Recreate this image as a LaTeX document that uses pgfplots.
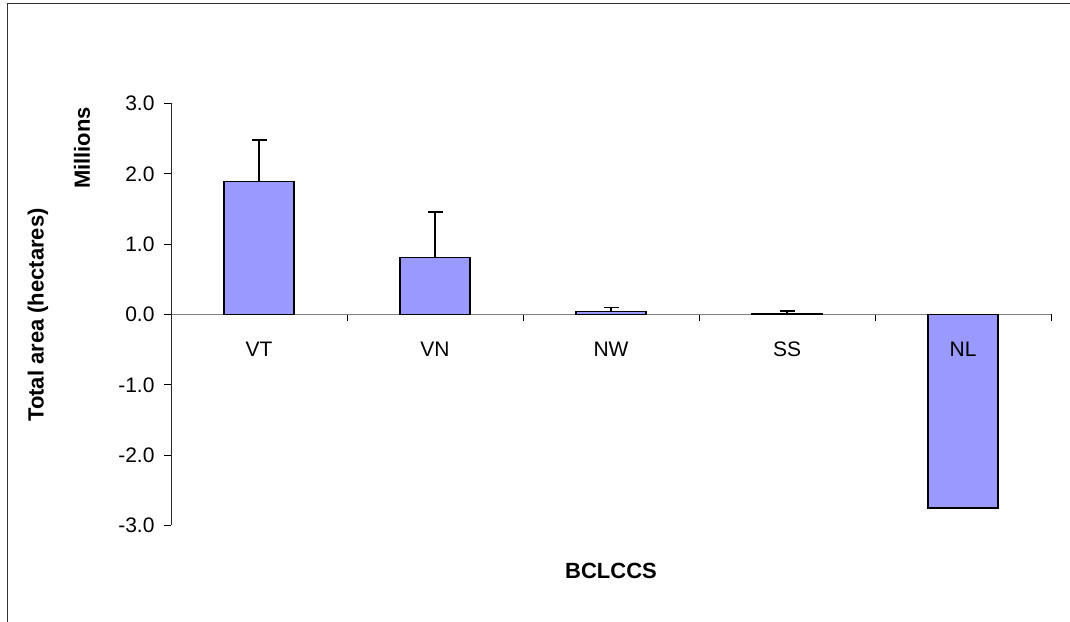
\documentclass[border=0pt]{standalone}
\usepackage{pgfplots}
\pgfplotsset{compat=1.18}
\usepackage{fontspec}
\setmainfont{Liberation Sans}
\definecolor{barfill}{HTML}{9999FF}
\definecolor{axisgray}{HTML}{808080}

\begin{document}
\begin{tikzpicture}[x=1pt,y=1pt]
\useasboundingbox (0,0) rectangle (1070,621);
% chart area frame
\draw[line width=1.3pt, black!80] (7.5,-2) -- (7.5,617.5) -- (1072,617.5);

\begin{axis}[
  at={(259pt,306.5pt)}, anchor=origin,
  scale only axis,
  width=880pt, height=422pt,
  xmin=-0.5, xmax=4.5,
  ymin=-3, ymax=3,
  axis x line=middle,
  axis y line=left,
  axis line style={line width=1pt, -},
  y axis line style={black!85},
  x axis line style={axisgray},
  ytick={-3,-2,-1,0,1,2,3},
  /pgf/number format/fixed,
  /pgf/number format/fixed zerofill,
  /pgf/number format/precision=1,
  /pgf/number format/assume math mode=true,
  tick align=outside,
  major tick length=7pt,
  tick style={black, line width=0.8pt},
  % category boundaries carry the tick marks; names are set on top of the bars below
  xtick={0.5,1.5,2.5,3.5,4.5},
  xticklabels={},
  x tick style={black, line width=0.8pt},
  ticklabel style={font=\fontsize{21}{24}\selectfont},
  yticklabel style={xshift=-6pt},
  clip=false,
]
\addplot[ybar, bar width=70pt, fill=barfill, draw=black, line width=1.6pt,
  error bars/.cd, y dir=plus, y explicit,
  error bar style={line width=1.6pt, black},
  error mark options={rotate=90, mark size=7.5pt, line width=1.6pt, black}]
  coordinates {
    (0,1.89)  +- (0,0.59)
    (1,0.81)  +- (0,0.65)
    (2,0.04)  +- (0,0.057)
    (3,0.017) +- (0,0.033)
    (4,-2.75) +- (0,0)
  };
\foreach \name [count=\i from 0] in {VT,VN,NW,SS,NL}{
  \edef\temp{\noexpand\node[anchor=base, inner sep=0pt, font=\noexpand\fontsize{21}{24}\noexpand\selectfont, yshift=-42pt] at (axis cs:\i,0) {\name};}
  \temp
}
\end{axis}

\node[rotate=90, font=\bfseries\fontsize{22}{26}\selectfont] at (38,306) {Total area (hectares)};
\node[rotate=90, font=\bfseries\fontsize{22}{26}\selectfont] at (82,473) {Millions};
\node[font=\bfseries\fontsize{22}{26}\selectfont] at (611,50) {BCLCCS};
\end{tikzpicture}
\end{document}
